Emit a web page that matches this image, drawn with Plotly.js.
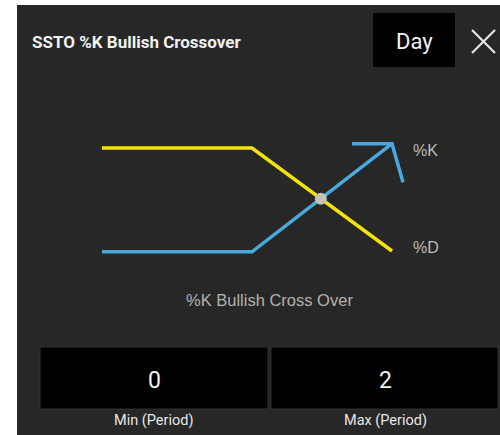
<!DOCTYPE html>
<html>
<head>
<meta charset="utf-8">
<script src="https://cdn.plot.ly/plotly-3.0.1.min.js"></script>
<style>
  html, body { margin: 0; padding: 0; background: #ffffff; }
  #chart { width: 500px; height: 435px; }
</style>
</head>
<body>
<div id="chart"></div>
<script>
// ---- data (schematic, arbitrary units) ----
var steps = [0, 3, 5.8];            // time steps
var dValues = [80, 80, 20];         // %D line (yellow)
var kValues = [19.5, 19.5, 82.5];   // %K line (blue)
var arrowX = [5.0, 5.8, 6.02];      // arrow head of %K
var arrowY = [82.5, 82.5, 60];
var lineLabels = ['%K', '%D'];
var chartTitle = 'SSTO %K Bullish Crossover';
var periodLabel = 'Day';
var caption = '%K Bullish Cross Over';
var fieldLabels = ['Min (Period)', 'Max (Period)'];
var fieldValues = ['0', '2'];

// crossing point computed from the last segments
function crossing() {
  var x0 = steps[1], x1 = steps[2];
  var d0 = dValues[1], d1 = dValues[2], k0 = kValues[1], k1 = kValues[2];
  var t = (d0 - k0) / ((k1 - k0) - (d1 - d0));
  return { x: x0 + t * (x1 - x0), y: d0 + t * (d1 - d0) };
}
var cp = crossing();

var W = 500, H = 435;
function px(x) { return x / W; }
function py(y) { return 1 - y / H; }

var traces = [
  { x: steps, y: dValues, mode: 'lines', line: { color: '#f2e30a', width: 3.5 }, hoverinfo: 'skip' },
  { x: steps, y: kValues, mode: 'lines', line: { color: '#4aa9dc', width: 3.5 }, hoverinfo: 'skip' },
  { x: arrowX, y: arrowY, mode: 'lines', line: { color: '#4aa9dc', width: 3.5 }, hoverinfo: 'skip' },
  { x: [cp.x], y: [cp.y], mode: 'markers', marker: { color: '#c4c3b6', size: 12 }, hoverinfo: 'skip' }
];

var shapes = [
  // panel
  { type: 'rect', xref: 'paper', yref: 'paper', x0: px(17), x1: px(500), y0: py(435), y1: py(5), fillcolor: '#272727', line: { width: 0 }, layer: 'below' },
  // Day box
  { type: 'rect', xref: 'paper', yref: 'paper', x0: px(373), x1: px(455), y0: py(67), y1: py(13), fillcolor: '#000000', line: { width: 0 }, layer: 'below' },
  // input boxes
  { type: 'rect', xref: 'paper', yref: 'paper', x0: px(40), x1: px(268), y0: py(409), y1: py(347), fillcolor: '#000000', line: { color: '#333333', width: 1 }, layer: 'below' },
  { type: 'rect', xref: 'paper', yref: 'paper', x0: px(271), x1: px(498), y0: py(409), y1: py(347), fillcolor: '#000000', line: { color: '#333333', width: 1 }, layer: 'below' },
  // close X
  { type: 'line', xref: 'paper', yref: 'paper', x0: px(472), y0: py(30), x1: px(495), y1: py(53), line: { color: '#e8e8e8', width: 2.2 } },
  { type: 'line', xref: 'paper', yref: 'paper', x0: px(495), y0: py(30), x1: px(472), y1: py(53), line: { color: '#e8e8e8', width: 2.2 } }
];

var annotations = [
  { text: '<b>' + chartTitle + '</b>', xref: 'paper', yref: 'paper', x: px(30), y: py(42), xanchor: 'left', yanchor: 'middle', showarrow: false, font: { family: 'Roboto', size: 17, color: '#f2f2f2' } },
  { text: periodLabel, xref: 'paper', yref: 'paper', x: px(414), y: py(41), xanchor: 'center', yanchor: 'middle', showarrow: false, font: { family: 'Roboto', size: 22, color: '#f2f2f2' } },
  { text: lineLabels[0], xref: 'x', yref: 'y', x: steps[2], y: kValues[2], xshift: 19, yshift: -7, xanchor: 'left', yanchor: 'middle', showarrow: false, font: { family: 'Liberation Sans, Arial', size: 16, color: '#bdbcb4' } },
  { text: lineLabels[1], xref: 'x', yref: 'y', x: steps[2], y: dValues[2], xshift: 19, yshift: 4, xanchor: 'left', yanchor: 'middle', showarrow: false, font: { family: 'Liberation Sans, Arial', size: 16, color: '#bdbcb4' } },
  { text: caption, xref: 'paper', yref: 'paper', x: px(269), y: py(300), xanchor: 'center', yanchor: 'middle', showarrow: false, font: { family: 'Liberation Sans, Arial', size: 16.5, color: '#b4b3ab' } },
  { text: fieldValues[0], xref: 'paper', yref: 'paper', x: px(154), y: py(380), xanchor: 'center', yanchor: 'middle', showarrow: false, font: { family: 'Roboto', size: 23, color: '#f2f2f2' } },
  { text: fieldValues[1], xref: 'paper', yref: 'paper', x: px(385), y: py(380), xanchor: 'center', yanchor: 'middle', showarrow: false, font: { family: 'Roboto', size: 23, color: '#f2f2f2' } },
  { text: fieldLabels[0], xref: 'paper', yref: 'paper', x: px(153), y: py(420), xanchor: 'center', yanchor: 'middle', showarrow: false, font: { family: 'Roboto', size: 14.5, color: '#e6e6e6' } },
  { text: fieldLabels[1], xref: 'paper', yref: 'paper', x: px(385), y: py(420), xanchor: 'center', yanchor: 'middle', showarrow: false, font: { family: 'Roboto', size: 14.5, color: '#e6e6e6' } }
];

// axis ranges so that step 0 sits at 102px and step 5.8 at 392px; value 80 at 148px, 20 at 251px
var xScale = 50, yScale = 103 / 60;
var layout = {
  width: W, height: H,
  margin: { l: 0, r: 0, t: 0, b: 0, pad: 0 },
  paper_bgcolor: '#ffffff',
  plot_bgcolor: 'rgba(0,0,0,0)',
  showlegend: false,
  xaxis: { range: [-102 / xScale, (W - 102) / xScale], visible: false, fixedrange: true },
  yaxis: { range: [80 - (H - 148) / yScale, 80 + 148 / yScale], visible: false, fixedrange: true },
  shapes: shapes,
  annotations: annotations
};

Plotly.newPlot('chart', traces, layout, { displayModeBar: false, staticPlot: true });
</script>
</body>
</html>
